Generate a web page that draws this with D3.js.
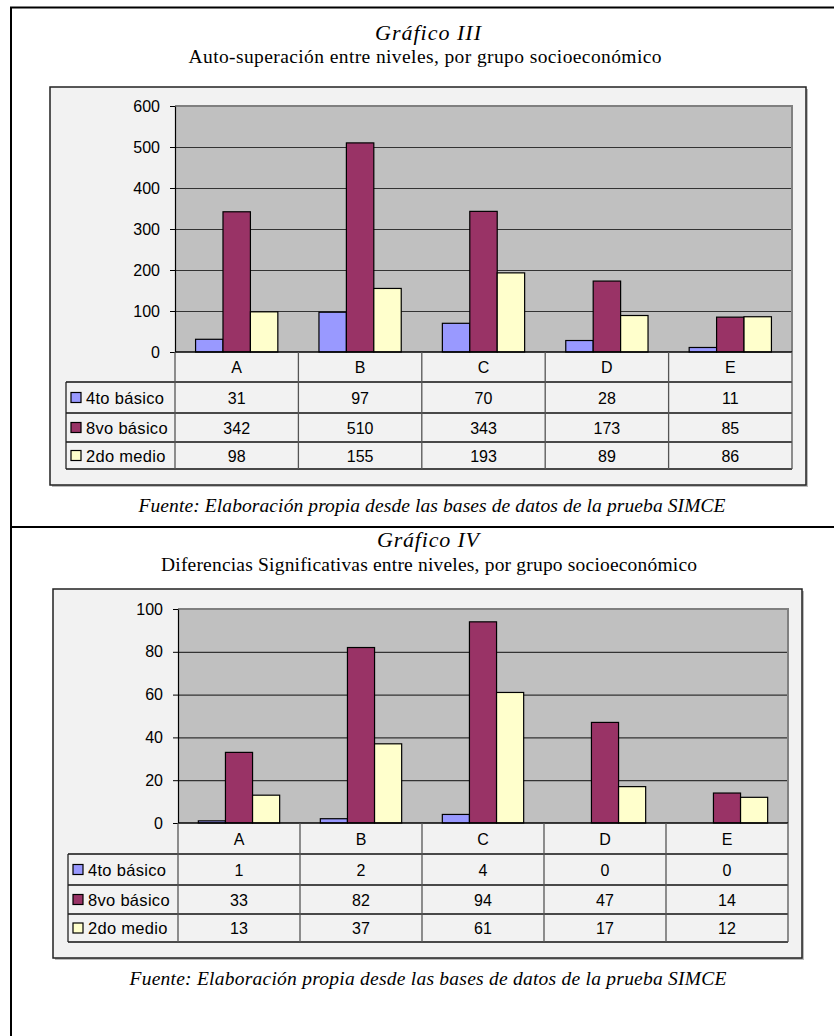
<html>
<head>
<meta charset="utf-8">
<script src="https://d3js.org/d3.v7.min.js"></script>
<style>
body { margin: 0; background: white; }
svg text.serif { font-family: 'Liberation Serif', 'Times New Roman', serif; }
svg text.sans { font-family: 'Liberation Sans', Arial, sans-serif; }
</style>
</head>
<body>
<svg width="834" height="1036"></svg>
<script>
// data
const categories = ["A", "B", "C", "D", "E"];
const seriesNames = ["4to básico", "8vo básico", "2do medio"];

const g3Cuarto = [31, 97, 70, 28, 11];
const g3Octavo = [342, 510, 343, 173, 85];
const g3Segundo = [98, 155, 193, 89, 86];
const g3Ticks = [0, 100, 200, 300, 400, 500, 600];

const g4Cuarto = [1, 2, 4, 0, 0];
const g4Octavo = [33, 82, 94, 47, 14];
const g4Segundo = [13, 37, 61, 17, 12];
const g4Ticks = [0, 20, 40, 60, 80, 100];

const barColors = ["#9999ff", "#993366", "#ffffcc"];

const svg = d3.select("svg");

// page frame (table borders of the document)
svg.append("line").attr("x1", 10).attr("x2", 834).attr("y1", 7.5).attr("y2", 7.5)
  .attr("stroke", "#000").attr("stroke-width", 2);
svg.append("line").attr("x1", 11).attr("x2", 11).attr("y1", 7).attr("y2", 1036)
  .attr("stroke", "#000").attr("stroke-width", 2);
svg.append("line").attr("x1", 10).attr("x2", 834).attr("y1", 527).attr("y2", 527)
  .attr("stroke", "#000").attr("stroke-width", 2);

function drawChart(cfg) {
  const g = svg.append("g");

  // titles (text widths matched to the scan)
  g.append("text").attr("class", "serif")
    .attr("x", cfg.titleX).attr("y", cfg.titleY)
    .attr("text-anchor", "middle")
    .attr("textLength", cfg.titleW).attr("lengthAdjust", "spacing")
    .style("font-style", "italic").style("font-size", "22px")
    .text(cfg.title);
  g.append("text").attr("class", "serif")
    .attr("x", cfg.subX).attr("y", cfg.subY)
    .attr("text-anchor", "middle")
    .attr("textLength", cfg.subW).attr("lengthAdjust", "spacing")
    .style("font-size", "19.5px")
    .text(cfg.subtitle);
  g.append("text").attr("class", "serif")
    .attr("x", cfg.fuenteX).attr("y", cfg.fuenteY)
    .attr("text-anchor", "middle")
    .attr("textLength", cfg.fuenteW).attr("lengthAdjust", "spacing")
    .style("font-style", "italic").style("font-size", "19.5px")
    .text("Fuente: Elaboración propia desde las bases de datos de la prueba SIMCE");

  // chart panel
  g.append("rect")
    .attr("x", cfg.panel[0] + 2).attr("y", cfg.panel[1] + 2)
    .attr("width", cfg.panel[2] - cfg.panel[0]).attr("height", cfg.panel[3] - cfg.panel[1])
    .attr("fill", "#bbb");
  g.append("rect")
    .attr("x", cfg.panel[0]).attr("y", cfg.panel[1])
    .attr("width", cfg.panel[2] - cfg.panel[0]).attr("height", cfg.panel[3] - cfg.panel[1])
    .attr("fill", "#f2f2f2").attr("stroke", "#222").attr("stroke-width", 1.5);

  const x0 = d3.scaleBand().domain(categories).range([cfg.left, cfg.right]);
  const x1 = d3.scaleBand().domain(seriesNames).range([0, x0.bandwidth()]).paddingOuter(0.75);
  const y = d3.scaleLinear().domain([0, d3.max(cfg.ticks)]).range([cfg.zero, cfg.top]);

  // plot area
  g.append("rect")
    .attr("x", cfg.left).attr("y", cfg.top)
    .attr("width", cfg.right - cfg.left).attr("height", cfg.zero - cfg.top)
    .attr("fill", "#c0c0c0");

  // gridlines
  g.append("g")
    .attr("transform", `translate(${cfg.left},0)`)
    .call(d3.axisLeft(y).tickValues(cfg.ticks.slice(1, -1)).tickSize(-(cfg.right - cfg.left)).tickFormat(""))
    .call(a => a.select(".domain").remove())
    .call(a => a.selectAll("line").attr("stroke", "#333").attr("stroke-width", 1.2));

  // plot border top / right
  g.append("path")
    .attr("d", `M${cfg.left},${cfg.top}H${cfg.right}V${cfg.zero}`)
    .attr("fill", "none").attr("stroke", "#808080").attr("stroke-width", 2);

  // bars
  const rows = seriesNames.map((s, i) => ({ name: s, color: barColors[i], values: cfg.series[i] }));
  rows.forEach(r => {
    g.append("g").selectAll("rect")
      .data(r.values)
      .join("rect")
      .attr("x", (d, i) => x0(categories[i]) + x1(r.name))
      .attr("y", d => y(d))
      .attr("width", x1.bandwidth())
      .attr("height", d => y(0) - y(d))
      .attr("fill", r.color)
      .attr("stroke", "#000").attr("stroke-width", 1.2);
  });

  // y axis
  g.append("g")
    .attr("transform", `translate(${cfg.left},0)`)
    .call(d3.axisLeft(y).tickValues(cfg.ticks).tickSize(5).tickPadding(10).tickSizeOuter(0))
    .call(a => a.selectAll("text").attr("class", "sans").style("font-size", "16px").attr("fill", "#000"))
    .call(a => a.selectAll("line").attr("stroke", "#000"))
    .call(a => a.select(".domain").attr("stroke", "#000").attr("stroke-width", 1.2));

  // data table
  const rowY = cfg.rows; // [zero, catBottom, r1, r2, r3]
  const t = g.append("g");
  t.append("line").attr("x1", cfg.left).attr("x2", cfg.right)
    .attr("y1", cfg.zero).attr("y2", cfg.zero).attr("stroke", "#000").attr("stroke-width", 1.3);
  rowY.slice(1).forEach(yy => {
    t.append("line").attr("x1", cfg.legendLeft).attr("x2", cfg.right)
      .attr("y1", yy).attr("y2", yy).attr("stroke", "#111").attr("stroke-width", 1.3);
  });
  const colEdges = categories.map(c => x0(c)).concat([cfg.right]);
  colEdges.forEach(xx => {
    t.append("line").attr("x1", xx).attr("x2", xx)
      .attr("y1", cfg.zero).attr("y2", rowY[4]).attr("stroke", "#555").attr("stroke-width", 1.3);
  });
  t.append("line").attr("x1", cfg.legendLeft).attr("x2", cfg.legendLeft)
    .attr("y1", rowY[1]).attr("y2", rowY[4]).attr("stroke", "#222").attr("stroke-width", 1.3);

  // category labels
  t.selectAll("text.cat")
    .data(categories)
    .join("text")
    .attr("class", "sans")
    .attr("x", d => x0(d) + x0.bandwidth() / 2)
    .attr("y", (rowY[0] + rowY[1]) / 2 + 6)
    .attr("text-anchor", "middle")
    .style("font-size", "16px")
    .text(d => d);

  rows.forEach((r, ri) => {
    const cy = (rowY[ri + 1] + rowY[ri + 2]) / 2;
    t.append("rect")
      .attr("x", cfg.legendLeft + 5).attr("y", cy - 5)
      .attr("width", 10).attr("height", 10)
      .attr("fill", r.color).attr("stroke", "#000").attr("stroke-width", 1.2);
    t.append("text").attr("class", "sans")
      .attr("x", cfg.legendLeft + 20).attr("y", cy + 6)
      .style("font-size", "16.5px")
      .style("letter-spacing", "0.3px")
      .text(r.name);
    t.append("g").selectAll("text")
      .data(r.values)
      .join("text")
      .attr("class", "sans")
      .attr("x", (d, i) => x0(categories[i]) + x0.bandwidth() / 2)
      .attr("y", cy + 6)
      .attr("text-anchor", "middle")
      .style("font-size", "16px")
      .text(d => d);
  });
}

drawChart({
  title: "Gráfico III",
  subtitle: "Auto-superación entre niveles, por grupo socioeconómico",
  titleX: 428, titleW: 106, titleY: 40,
  subX: 425, subW: 473, subY: 63,
  fuenteX: 432, fuenteW: 587, fuenteY: 512,
  panel: [50, 87, 806, 485],
  left: 175, right: 792, top: 106, zero: 352,
  legendLeft: 66,
  rows: [352, 382, 413, 442, 469],
  ticks: g3Ticks,
  series: [g3Cuarto, g3Octavo, g3Segundo]
});

drawChart({
  title: "Gráfico IV",
  subtitle: "Diferencias Significativas entre niveles, por grupo socioeconómico",
  titleX: 428, titleW: 102, titleY: 547,
  subX: 429, subW: 536, subY: 571,
  fuenteX: 428, fuenteW: 597, fuenteY: 985,
  panel: [53, 589, 802, 958],
  left: 178, right: 788, top: 609, zero: 823,
  legendLeft: 68,
  rows: [823, 854, 885, 914, 942],
  ticks: g4Ticks,
  series: [g4Cuarto, g4Octavo, g4Segundo]
});
</script>
</body>
</html>
